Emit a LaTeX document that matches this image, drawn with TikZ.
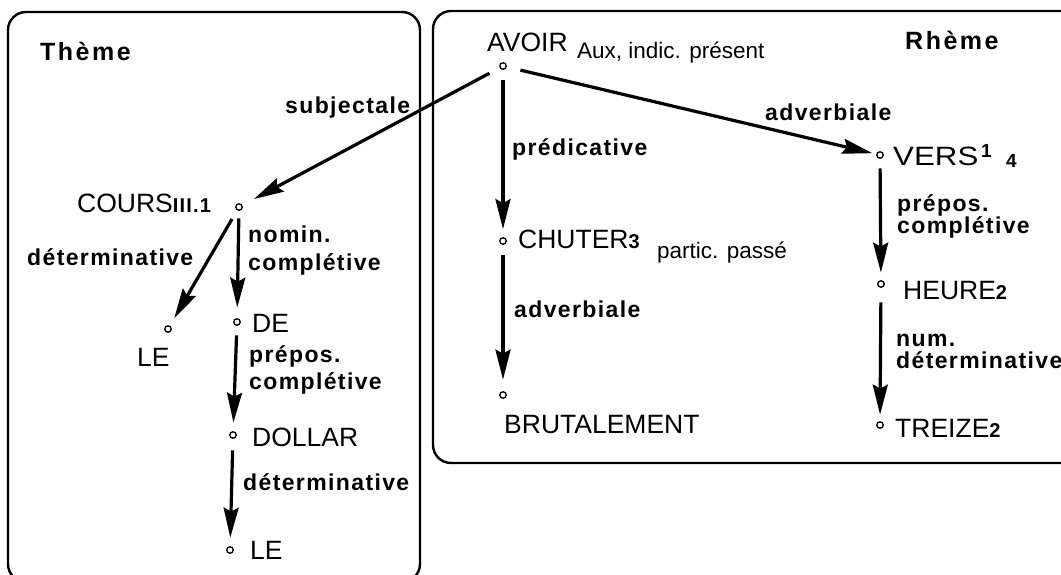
\documentclass[tikz,border=0pt]{standalone}
\usepackage{fontspec}
\setmainfont{Liberation Sans}
\newfontfamily\rolefont{Liberation Sans}[LetterSpace=6]
\newfontfamily\titlefont{Liberation Sans}[LetterSpace=10]
\usetikzlibrary{arrows.meta}
% bold index after a lemma (COURS III.1, CHUTER 3, ...)
\newcommand\lemidx[1]{{\rolefont\bfseries\fontsize{20}{22}\selectfont #1}}
\newcommand\lemsup[1]{{\bfseries\fontsize{19}{20}\selectfont #1}}
\begin{document}
\begin{tikzpicture}[x=1pt,y=-1pt,
  dot/.style={circle, draw, line width=1.3pt, inner sep=0pt, minimum size=6.5pt},
  word/.style={font=\fontsize{26.5}{28}\selectfont, inner sep=0pt, anchor=base west},
  note/.style={font=\fontsize{22.5}{24}\selectfont, inner sep=0pt, anchor=base west},
  role/.style={font=\fontsize{23}{25}\selectfont\rolefont\bfseries, inner sep=0pt, anchor=base west},
  title/.style={font=\fontsize{25}{27}\selectfont\titlefont\bfseries, inner sep=0pt, anchor=base west},
  arr/.style={line width=3.2pt, -{Stealth[length=30pt,width=15pt,inset=4pt]}},
  zone/.style={line width=2.4pt, rounded corners=18pt}]
\useasboundingbox (0,0) rectangle (1061,574);
\clip (0,0) rectangle (1061,574);

% theme and rheme zones
\draw[zone] (8,12) rectangle (420,582);
\draw[zone] (433,11) rectangle (1085,463);
\node[title] (theme) at (40,60)  {Thème};
\node[title] (rheme) at (905,49) {Rhème};

% tree nodes
\node[dot] (avoir)  at (503,66)  {};
\node[dot] (chuter) at (503,241) {};
\node[dot] (brut)   at (503,395) {};
\node[dot] (vers)   at (880,155) {};
\node[dot] (heure)  at (881,284) {};
\node[dot] (treize) at (880,425) {};
\node[dot] (cours)  at (239,207) {};
\node[dot] (leA)    at (168,329) {};
\node[dot] (de)     at (237,322) {};
\node[dot] (dollar) at (233,435) {};
\node[dot] (leB)    at (230,550) {};

% lemmas
\node[word] (tAvoir)  at (487,51)  {AVOIR};
\node[note] (tAux)    at (577,58)  {Aux, indic. présent};
\node[word, xscale=1.18] (tVers) at (893,165) {VERS};
\node[inner sep=0pt, anchor=base west] (tVersA) at (981,157) {\lemsup{1}};
\node[inner sep=0pt, anchor=base west] (tVersB) at (1006,167) {\lemsup{4}};
\node[word] (tChuter) at (518,248) {CHUTER\lemidx{3}};
\node[note] (tPartic) at (657,258) {partic. passé};
\node[word] (tHeure)  at (903,299) {HEURE\lemidx{2}};
\node[word] (tTreize) at (895,437) {TREIZE\lemidx{2}};
\node[word] (tBrut)   at (504,433) {BRUTALEMENT};
\node[word] (tCours)  at (77,212)  {COURS\lemidx{III.1}};
\node[word] (tLeA)    at (137,366) {LE};
\node[word] (tDe)     at (252,332) {DE};
\node[word] (tDollar) at (252,446) {DOLLAR};
\node[word] (tLeB)    at (250,559) {LE};

% relations
\draw[arr, shorten <=11.5pt, shorten >=13pt]  (avoir)  -- (cours);
\draw[arr, shorten <=10.5pt, shorten >=8pt]   (avoir)  -- (chuter);
\draw[arr, shorten <=14pt,   shorten >=4pt]   (avoir)  -- (vers);
\draw[arr, shorten <=10.5pt, shorten >=11.5pt] (chuter) -- (brut);
\draw[arr, shorten <=9.5pt,  shorten >=7.5pt] (vers)   -- (heure);
\draw[arr, shorten <=14.5pt, shorten >=6.5pt] (heure)  -- (treize);
\draw[arr, shorten <=10pt,   shorten >=8.5pt] (cours)  -- (leA);
\draw[arr, shorten <=7.5pt,  shorten >=10.5pt] (cours) -- (de);
\draw[arr, shorten <=9.5pt,  shorten >=8.5pt] (de)     -- (dollar);
\draw[arr, shorten <=11.5pt, shorten >=8.5pt] (dollar) -- (leB);

% relation labels
\node[role] (rSubj)  at (285,113) {subjectale};
\node[role] (rDetA)  at (27,265)  {déterminative};
\node[role] (rNomA)  at (248,242) {nomin.};
\node[role] (rNomB)  at (248,270) {complétive};
\node[role] (rPrepA) at (249,362) {prépos.};
\node[role] (rPrepB) at (249,389) {complétive};
\node[role] (rDetB)  at (243,490) {déterminative};
\node[role] (rPred)  at (512,155) {prédicative};
\node[role] (rAdvA)  at (765,120) {adverbiale};
\node[role] (rAdvB)  at (514,317) {adverbiale};
\node[role] (rPrepC) at (897,211) {prépos.};
\node[role] (rPrepD) at (897,233) {complétive};
\node[role] (rNumA)  at (896,346) {num.};
\node[role] (rNumB)  at (896,368) {déterminative};
\end{tikzpicture}
\end{document}
